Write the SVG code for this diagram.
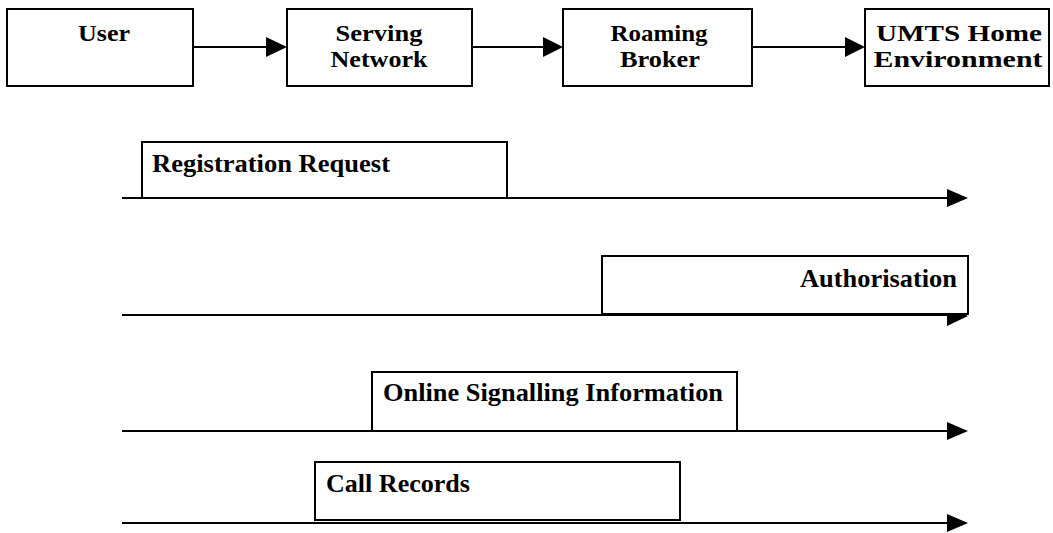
<svg xmlns="http://www.w3.org/2000/svg" width="1053" height="533" viewBox="0 0 1053 533">
<style>
.box{fill:#fff;stroke:#000;stroke-width:2}
.ln{stroke:#000;stroke-width:2;fill:none}
.ah{fill:#000}
text{font-family:"Liberation Serif","Times New Roman",Times,serif;font-weight:bold;font-size:25px;fill:#000}
.c{text-anchor:middle;font-size:22.5px}
</style>
<rect width="1053" height="533" fill="#fff"/>
<g id="connectors">
<line class="ln" x1="193" y1="47" x2="268" y2="47"/>
<polygon class="ah" points="266,37 287,47 266,57"/>
<line class="ln" x1="472" y1="47" x2="545" y2="47"/>
<polygon class="ah" points="543,37 563,47 543,57"/>
<line class="ln" x1="752" y1="47" x2="847" y2="47"/>
<polygon class="ah" points="845,37 865,47 845,57"/>
<line class="ln" x1="122" y1="198" x2="950" y2="198"/>
<polygon class="ah" points="947,189 968,198 947,207"/>
<line class="ln" x1="122" y1="315" x2="950" y2="315"/>
<polygon class="ah" points="947,306 968,316 947,326"/>
<line class="ln" x1="122" y1="431" x2="950" y2="431"/>
<polygon class="ah" points="947,422 968,431 947,440"/>
<line class="ln" x1="122" y1="523" x2="950" y2="523"/>
<polygon class="ah" points="947,514 968,523 947,532"/>
</g>
<g id="user"><rect class="box" x="7" y="9" width="186" height="77"/><text class="c" x="104" y="41" textLength="52" lengthAdjust="spacingAndGlyphs">User</text></g>
<g id="serving"><rect class="box" x="287" y="9" width="185" height="77"/><text class="c" x="379" y="41" textLength="87" lengthAdjust="spacingAndGlyphs">Serving</text><text class="c" x="379" y="67" textLength="97" lengthAdjust="spacingAndGlyphs">Network</text></g>
<g id="roaming"><rect class="box" x="563" y="9" width="189" height="77"/><text class="c" x="659" y="41" textLength="97" lengthAdjust="spacingAndGlyphs">Roaming</text><text class="c" x="660" y="67" textLength="80" lengthAdjust="spacingAndGlyphs">Broker</text></g>
<g id="umts"><rect class="box" x="865" y="9" width="184" height="77"/><text class="c" x="959" y="41" textLength="166" lengthAdjust="spacingAndGlyphs">UMTS Home</text><text class="c" x="958" y="67" textLength="169" lengthAdjust="spacingAndGlyphs">Environment</text></g>
<g id="msg-registration"><rect class="box" x="142" y="142" width="365" height="56"/><text x="152" y="172" textLength="238" lengthAdjust="spacingAndGlyphs">Registration Request</text></g>
<g id="msg-authorisation"><rect class="box" x="602" y="256" width="366" height="58"/><text x="800" y="287" textLength="157" lengthAdjust="spacingAndGlyphs">Authorisation</text></g>
<g id="msg-online"><rect class="box" x="372" y="372" width="365" height="59"/><text x="383" y="401" textLength="340" lengthAdjust="spacingAndGlyphs">Online Signalling Information</text></g>
<g id="msg-callrecords"><rect class="box" x="315" y="462" width="365" height="58"/><text x="326" y="492" textLength="144" lengthAdjust="spacingAndGlyphs">Call Records</text></g>
</svg>
